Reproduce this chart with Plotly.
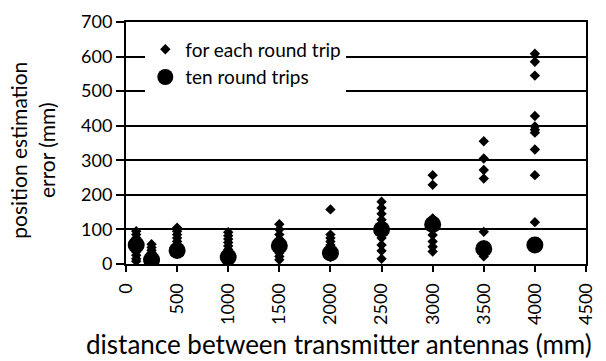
import plotly.graph_objects as go

# distances between transmitter antennas (mm)
distances = [100, 250, 500, 1000, 1500, 2000, 2500, 3000, 3500, 4000]

# position estimation error for each round trip (mm), ten per distance
each_trip = {
    100:  [95, 85, 75, 65, 55, 45, 35, 25, 15, 8],
    250:  [57, 48, 40, 33, 27, 20, 15, 10, 8, 5],
    500:  [105, 95, 85, 75, 65, 55, 48, 42, 36, 30],
    1000: [92, 82, 72, 62, 52, 42, 32, 22, 15, 10],
    1500: [115, 100, 85, 72, 62, 52, 42, 32, 22, 12],
    2000: [158, 85, 75, 65, 55, 45, 38, 30, 25, 20],
    2500: [180, 162, 145, 128, 110, 95, 75, 55, 38, 15],
    3000: [257, 229, 132, 122, 115, 105, 84, 65, 50, 36],
    3500: [355, 305, 272, 247, 93, 55, 45, 38, 30, 22],
    4000: [608, 585, 545, 428, 398, 388, 380, 331, 257, 121],
}

# position estimation error over ten round trips (mm)
ten_trips = [55, 12, 39, 20, 53, 32, 100, 114, 44, 55]

x_each = [d for d in distances for _ in each_trip[d]]
y_each = [v for d in distances for v in each_trip[d]]

font_family = "Lato, 'Open Sans', sans-serif"

fig = go.Figure()
fig.add_trace(go.Scatter(
    x=x_each, y=y_each, mode="markers", name="for each round trip",
    marker=dict(symbol="diamond", size=8, color="black"),
))
fig.add_trace(go.Scatter(
    x=distances, y=ten_trips, mode="markers", name="ten round trips",
    marker=dict(symbol="circle", size=17, color="black"),
))

fig.update_layout(
    width=606, height=361,
    margin=dict(l=126, r=10, t=14, b=97),
    paper_bgcolor="white", plot_bgcolor="white",
    font=dict(family=font_family, size=18, color="black"),
    showlegend=True,
    legend=dict(
        x=0.042, y=0.965, xanchor="left", yanchor="top",
        bgcolor="white", font=dict(size=19, color="black"),
        itemwidth=30, tracegroupgap=0,
    ),
)

fig.update_xaxes(
    range=[0, 4500], dtick=500, tick0=0, tickangle=-90,
    showline=True, linecolor="black", linewidth=2, mirror=True,
    ticks="outside", ticklen=6, tickwidth=2, tickcolor="black",
    showgrid=False, zeroline=False, ticklabelstandoff=4,
    tickfont=dict(size=18),
)
fig.update_yaxes(
    range=[0, 700], dtick=100, tick0=0,
    showline=True, linecolor="black", linewidth=2, mirror=True,
    ticks="outside", ticklen=8, tickwidth=2, tickcolor="black",
    showgrid=True, gridcolor="black", gridwidth=2,
    zeroline=False, tickfont=dict(size=18),
)

fig.add_annotation(
    text="distance between transmitter antennas (mm)",
    xref="paper", yref="paper", x=0.462, y=0, yshift=-62,
    xanchor="center", yanchor="top", showarrow=False,
    font=dict(size=26),
)
fig.add_annotation(
    text="position estimation<br>error (mm)",
    xref="paper", yref="paper", x=0, y=0.468, xshift=-66,
    xanchor="right", yanchor="middle", textangle=-90, showarrow=False,
    font=dict(size=21),
)

fig.write_html("out.html")
